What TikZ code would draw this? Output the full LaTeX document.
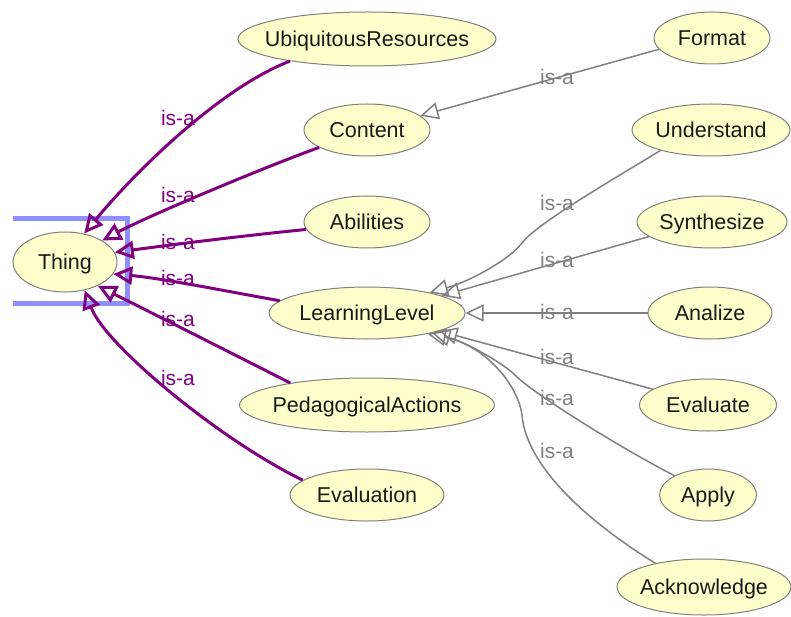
\documentclass[tikz,border=0pt]{standalone}
\usepackage{fontspec}
\setmainfont{Liberation Sans}
\usetikzlibrary{arrows.meta,shapes.geometric}
\definecolor{isapurple}{HTML}{800080}
\definecolor{isagray}{HTML}{808080}
\definecolor{nodefill}{HTML}{FFFFCC}
\definecolor{nodeline}{HTML}{808080}
\definecolor{selblue}{HTML}{8F8FFF}
\newcommand{\ZeroW}[1]{\makebox[0pt]{#1}}
\begin{document}
\begin{tikzpicture}[x=1pt,y=-1pt,
  cls/.style={ellipse, draw=nodeline, fill=nodefill, line width=1pt, inner sep=0pt,
    minimum height=52pt, text height=15.4pt, text depth=0pt,
    font=\fontsize{21.5}{24}\selectfont, text=black!90},
  subedge/.style={draw=isapurple, line width=3pt, -{Triangle[open,length=19pt,width=18pt]}},
  grayedge/.style={draw=isagray, line width=1.5pt, -{Triangle[open,length=18pt,width=17pt]}},
  plabel/.style={text=isapurple, inner sep=0pt, text height=15.4pt, text depth=0pt,
    font=\fontsize{21}{24}\selectfont},
  glabel/.style={text=isagray, inner sep=0pt, text height=15.4pt, text depth=0pt,
    font=\fontsize{21}{24}\selectfont},
]
\useasboundingbox (0,0) rectangle (791,617);

% selection marker
\draw[selblue, line width=5pt] (13,219) -- (127,219) -- (127,303) -- (13,303);

% nodes
\node[cls, minimum width=104pt, minimum height=60pt] (thing) at (65,262) {\ZeroW{Thing}};
\node[cls, minimum width=258pt, minimum height=54pt] (ubiq) at (367,39) {\ZeroW{UbiquitousResources}};
\node[cls, minimum width=126pt] (content) at (367,130) {\ZeroW{Content}};
\node[cls, minimum width=126pt] (abil) at (367,222) {\ZeroW{Abilities}};
\node[cls, minimum width=196pt] (ll) at (367,313) {\ZeroW{LearningLevel}};
\node[cls, minimum width=255pt, minimum height=54pt] (ped) at (367,405) {\ZeroW{PedagogicalActions}};
\node[cls, minimum width=154pt] (evaln) at (367,495) {\ZeroW{Evaluation}};
\node[cls, minimum width=116pt] (format) at (712,38) {\ZeroW{Format}};
\node[cls, minimum width=158pt] (underst) at (711,130) {\ZeroW{Understand}};
\node[cls, minimum width=150pt] (synth) at (712,222) {\ZeroW{Synthesize}};
\node[cls, minimum width=124pt] (analize) at (710,313) {\ZeroW{Analize}};
\node[cls, minimum width=137pt] (evaluate) at (708,405) {\ZeroW{Evaluate}};
\node[cls, minimum width=97pt] (apply) at (708,495) {\ZeroW{Apply}};
\node[cls, minimum width=174pt, minimum height=56pt] (ackn) at (704,587) {\ZeroW{Acknowledge}};

% is-a edges to Thing
\draw[subedge] (ubiq.196) .. controls (220,88) and (135,172) .. (thing.56);
\draw[subedge] (content.200) .. controls (270,165) and (150,215) .. (thing.30);
\draw[subedge] (abil.187) .. controls (240,236) and (170,245) .. (thing.11);
\draw[subedge] (ll.172) .. controls (220,290) and (160,278) .. (thing.346);
\draw[subedge] (ped.164) .. controls (245,360) and (150,312) .. (thing.324);
\draw[subedge] (evaln.167) .. controls (220,440) and (105,345) .. (thing.305);

% gray is-a edges
\draw[grayedge] (format.192) -- (content.15);
\draw[grayedge] (underst.202) .. controls (619,176) and (537,223) .. (522,243)
   .. controls (510,259) and (471,281) .. (ll.18);
\draw[grayedge] (synth.193) -- (ll.13);
\draw[grayedge] (analize.180) -- (ll.0);
\draw[grayedge] (evaluate.164) -- (ll.346);
\draw[grayedge] (apply.150) .. controls (624,450) and (532,393) .. (515,375)
   .. controls (504,364) and (468,343) .. (ll.343);
\draw[grayedge] (ackn.154) .. controls (585,520) and (526,465) .. (522,415)
   .. controls (518,385) and (485,345) .. (ll.341);

% labels
\node[plabel] (p1) at (178,118) {is-a};
\node[plabel] (p2) at (178,195) {is-a};
\node[plabel] (p3) at (178,242) {is-a};
\node[plabel] (p4) at (178,278) {is-a};
\node[plabel] (p5) at (178,319) {is-a};
\node[plabel] (p6) at (178,378) {is-a};
\node[glabel] (g1) at (557,77) {is-a};
\node[glabel] (g2) at (557,203) {is-a};
\node[glabel] (g3) at (557,260) {is-a};
\node[glabel] (g4) at (557,312) {is-a};
\node[glabel] (g5) at (557,357) {is-a};
\node[glabel] (g6) at (557,398) {is-a};
\node[glabel] (g7) at (557,451) {is-a};
\end{tikzpicture}
\end{document}
